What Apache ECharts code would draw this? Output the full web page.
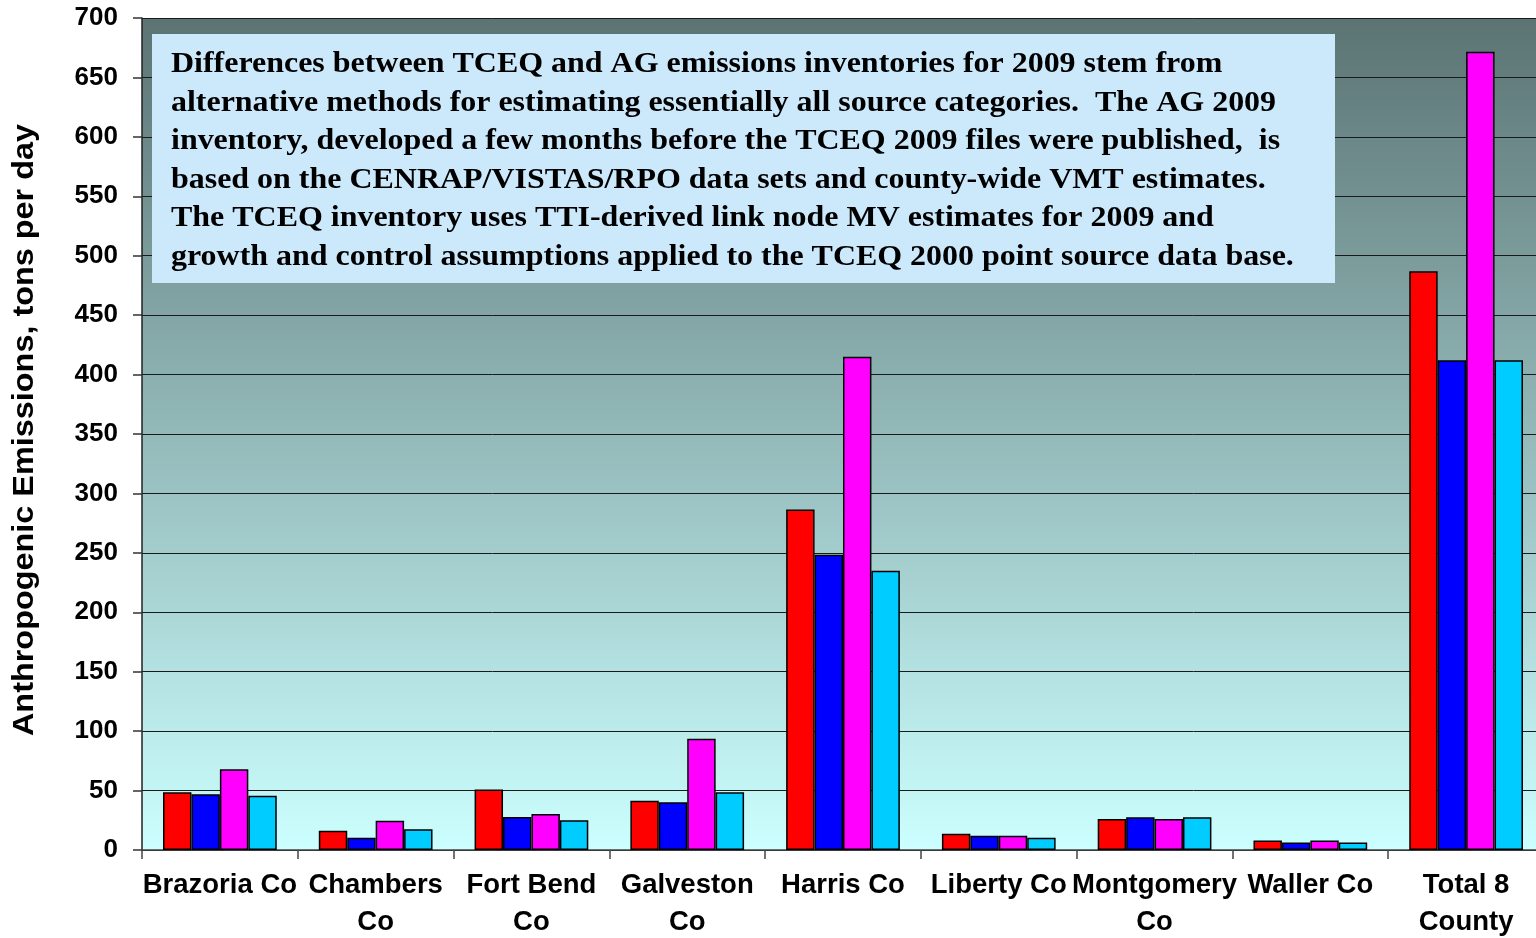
<!DOCTYPE html>
<html>
<head>
<meta charset="utf-8">
<script src="https://cdn.jsdelivr.net/npm/echarts@6/dist/echarts.min.js"></script>
<style>
  html, body { margin: 0; padding: 0; background: #ffffff; overflow: hidden; }
  #chart { width: 1545px; height: 938px; }
</style>
</head>
<body>
<div id="chart"></div>
<script>
// Counties (last category is the 8-county total)
const categories = [
  'Brazoria Co', 'Chambers\nCo', 'Fort Bend\nCo', 'Galveston\nCo', 'Harris Co',
  'Liberty Co', 'Montgomery\nCo', 'Waller Co', 'Total 8\nCounty'
];

// Anthropogenic emissions, tons per day, four inventories per county
const series1 = [48.5, 16.3, 51, 41.5, 286.5, 13.7, 26, 7.9, 487];
const series2 = [47, 10.4, 27.8, 40.1, 248.5, 12, 27.5, 6.4, 412];
const series3 = [68, 24.7, 30.3, 93.7, 415, 12, 26, 7.9, 671.5];
const series4 = [45.7, 17.4, 25, 48.5, 235, 10.4, 27.5, 6.4, 412];

const yTicks = [0, 50, 100, 150, 200, 250, 300, 350, 400, 450, 500, 550, 600, 650, 700];

const noteLines = [
  'Differences between TCEQ and AG emissions inventories for 2009 stem from',
  'alternative methods for estimating essentially all source categories.  The AG 2009',
  'inventory, developed a few months before the TCEQ 2009 files were published,  is',
  'based on the CENRAP/VISTAS/RPO data sets and county-wide VMT estimates.',
  'The TCEQ inventory uses TTI-derived link node MV estimates for 2009 and',
  'growth and control assumptions applied to the TCEQ 2000 point source data base.'
];

const colors = ['#ff0000', '#0000ff', '#ff00ff', '#00ccff'];
const seriesData = [series1, series2, series3, series4];

const chart = echarts.init(document.getElementById('chart'), null, { renderer: 'canvas' });

const barStyle = (c) => ({ color: c, borderColor: '#000000', borderWidth: 1.5 });

chart.setOption({
  animation: false,
  grid: {
    left: 142, top: 18, width: 1402, height: 832,
    outerBoundsMode: 'none',
    containLabel: false,
    show: true,
    borderWidth: 0,
    backgroundColor: new echarts.graphic.LinearGradient(0, 0, 0, 1, [
      { offset: 0, color: '#5b7373' },
      { offset: 1, color: '#ccffff' }
    ])
  },
  xAxis: {
    type: 'category',
    data: categories,
    axisLine: { lineStyle: { color: '#444444', width: 1.5 } },
    axisTick: { show: true, length: 9, interval: 0, lineStyle: { color: '#444444', width: 1.5 } },
    axisLabel: {
      interval: 0,
      margin: 17,
      color: '#000000',
      fontFamily: 'Liberation Sans, Arial, sans-serif',
      fontWeight: 'bold',
      fontSize: 27.5,
      lineHeight: 37
    }
  },
  yAxis: {
    type: 'value',
    min: yTicks[0],
    max: yTicks[yTicks.length - 1],
    interval: 50,
    axisLine: { show: true, lineStyle: { color: '#222222', width: 1.5 } },
    axisTick: { show: true, length: 9, lineStyle: { color: '#333333', width: 1.5 } },
    splitLine: { show: true, lineStyle: { color: '#1a1a1a', width: 1 } },
    axisLabel: {
      margin: 24,
      color: '#000000',
      fontFamily: 'Liberation Sans, Arial, sans-serif',
      fontWeight: 'bold',
      fontSize: 26
    }
  },
  series: seriesData.map((d, i) => ({
    name: 'Inventory ' + (i + 1),
    type: 'bar',
    data: d,
    barGap: '0%',
    barCategoryGap: '27%',
    itemStyle: barStyle(colors[i])
  })),
  graphic: [
    {
      type: 'text',
      x: 25,
      y: 430,
      rotation: Math.PI / 2,
      scaleX: 1.08,
      style: {
        text: 'Anthropogenic Emissions, tons per day',
        fontFamily: 'Liberation Sans, Arial, sans-serif',
        fontWeight: 'bold',
        fontSize: 30,
        fill: '#000000',
        align: 'center',
        verticalAlign: 'middle'
      }
    },
    {
      type: 'rect',
      z: 100,
      shape: { x: 152, y: 34, width: 1183, height: 249 },
      style: { fill: '#cce9fc' }
    },
    {
      type: 'text',
      z: 101,
      x: 171,
      y: 45,
      scaleX: 1.065,
      style: {
        text: noteLines.join('\n'),
        fontFamily: 'Liberation Serif, Times New Roman, serif',
        fontWeight: 'bold',
        fontSize: 30,
        lineHeight: 38.6,
        fill: '#000000',
        align: 'left',
        verticalAlign: 'top'
      }
    }
  ]
});
</script>
</body>
</html>
